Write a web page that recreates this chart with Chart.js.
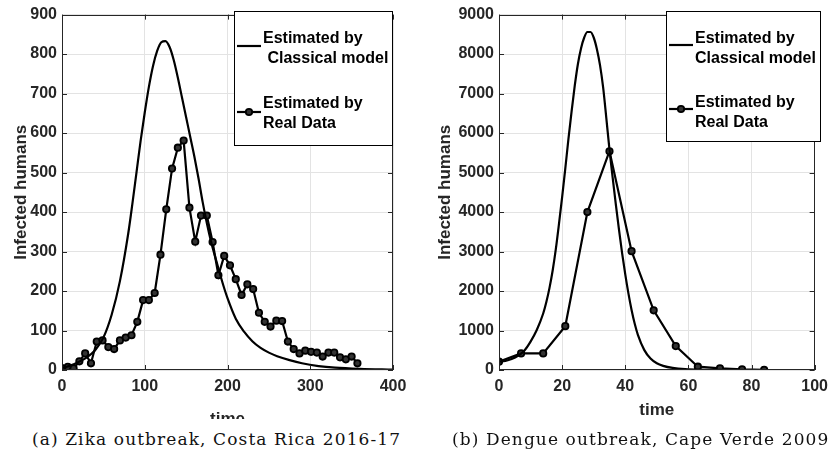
<!DOCTYPE html>
<html>
<head>
<meta charset="utf-8">
<script src="https://cdn.jsdelivr.net/npm/chart.js@4.4.1/dist/chart.umd.min.js"></script>
<style>
html, body { margin: 0; padding: 0; background: #fff; }
body { width: 835px; height: 457px; position: relative; overflow: hidden; }
#zika { position: absolute; left: 0; top: 0; }
#dengue { position: absolute; left: 420px; top: 0; }
.cap { position: absolute; top: 429px; font-family: 'DejaVu Serif', serif; font-size: 17px; letter-spacing: 1.1px; color: #111; white-space: nowrap; }
</style>
</head>
<body>
<canvas id="zika" width="417" height="419"></canvas>
<canvas id="dengue" width="415" height="457"></canvas>
<div class="cap" style="left:32px">(a) Zika outbreak, Costa Rica 2016-17</div>
<div class="cap" style="left:452px">(b) Dengue outbreak, Cape Verde 2009</div>
<script>
// Zika, Costa Rica - weekly reported data
const zikaDays = [0, 7, 14, 21, 28, 35, 42, 49, 56, 63, 70, 77, 84, 91, 98, 105, 112, 119, 126, 133,
  140, 147, 154, 161, 168, 175, 182, 189, 196, 203, 210, 217, 224, 231, 238, 245, 252, 259, 266, 273,
  280, 287, 294, 301, 308, 315, 322, 329, 336, 343, 350, 357];
const zikaCases = [5, 8, 4, 22, 42, 17, 72, 75, 58, 53, 75, 82, 88, 122, 177, 177, 195, 292, 407, 510,
  563, 581, 411, 325, 391, 391, 324, 240, 289, 265, 230, 190, 217, 205, 145, 122, 110, 125, 124, 72,
  53, 42, 49, 46, 44, 34, 44, 44, 32, 27, 34, 17];
// Zika - classical model curve
const zikaModelT = [0, 10, 20, 30, 40, 50, 60, 70, 80, 85, 90, 95, 100, 105, 110, 115, 120, 125, 130, 135,
  140, 145, 150, 155, 160, 165, 170, 175, 180, 185, 190, 195, 200, 210, 220, 230, 240, 250, 260, 275,
  290, 310, 330, 360, 400];
const zikaModelI = [5, 11, 20, 32, 50, 82, 140, 225, 345, 420, 500, 580, 652, 717, 770, 808, 830, 833, 818, 785,
  740, 690, 640, 590, 540, 485, 425, 372, 326, 287, 250, 214, 182, 130, 97, 73, 56, 44, 35, 25,
  17, 10, 6, 3, 1];

// Dengue, Cape Verde 2009
const dengueDays = [0, 7, 14, 21, 28, 35, 42, 49, 56, 63, 70, 77, 84];
const dengueCases = [210, 420, 420, 1110, 4000, 5540, 3010, 1510, 605, 84, 42, 17, 5];
const dengueModelT = [0, 2, 4, 6, 8, 10, 12, 14, 15, 16, 17, 18, 19, 20, 21, 22, 23, 24, 25, 26,
  27, 28, 29, 30, 31, 32, 33, 34, 35, 36, 37, 38, 39, 40, 41, 42, 43, 44, 46, 48,
  50, 52, 55, 59, 65, 70, 80, 90];
const dengueModelI = [210, 232, 280, 360, 490, 720, 1020, 1430, 1720, 2080, 2520, 3060, 3700, 4380, 5100, 5850, 6550, 7200, 7750, 8150,
  8420, 8560, 8560, 8420, 8130, 7720, 7150, 6380, 5580, 4880, 4200, 3560, 2960, 2420, 1940, 1520, 1170, 890, 510, 290,
  170, 105, 52, 20, 6, 2, 0, 0];

const INK = '#262626';
const GRID = '#e3e3e3';
const SANS = "'Liberation Sans', Arial, sans-serif";

Chart.defaults.font.family = SANS;
Chart.defaults.font.weight = 'bold';

function pairs(xs, ys) {
  return xs.map((x, i) => ({x: x, y: ys[i]}));
}

// MATLAB style box, inward ticks, axis titles and legend
const matlabFrame = {
  id: 'matlabFrame',
  afterDatasetsDraw(chart, args, o) {
    const ctx = chart.ctx;
    const a = chart.chartArea;
    const xs = chart.scales.x, ys = chart.scales.y;
    ctx.save();
    ctx.strokeStyle = INK;
    ctx.lineWidth = 1;
    ctx.beginPath();
    xs.ticks.forEach(t => {
      const px = Math.round(xs.getPixelForValue(t.value)) + 0.5;
      ctx.moveTo(px, a.bottom); ctx.lineTo(px, a.bottom - 5);
      ctx.moveTo(px, a.top); ctx.lineTo(px, a.top + 5);
    });
    ys.ticks.forEach(t => {
      const py = Math.round(ys.getPixelForValue(t.value)) + 0.5;
      ctx.moveTo(a.left, py); ctx.lineTo(a.left + 5, py);
      ctx.moveTo(a.right, py); ctx.lineTo(a.right - 5, py);
    });
    ctx.stroke();
    ctx.strokeRect(Math.round(a.left) + 0.5, Math.round(a.top) + 0.5,
      Math.round(a.right - a.left) - 1, Math.round(a.bottom - a.top) - 1);

    ctx.fillStyle = INK;
    ctx.font = 'bold 17px ' + SANS;
    ctx.textAlign = 'center';
    ctx.textBaseline = 'alphabetic';
    ctx.fillText('time', (a.left + a.right) / 2, o.xTitleY);
    ctx.save();
    ctx.translate(o.yTitleX, (a.top + a.bottom) / 2);
    ctx.rotate(-Math.PI / 2);
    ctx.textBaseline = 'middle';
    ctx.fillText('Infected humans', 0, 0);
    ctx.restore();

    // legend
    const L = o.legend;
    ctx.fillStyle = '#fff';
    ctx.fillRect(L.x, L.y, L.w, L.h);
    ctx.strokeStyle = '#000';
    ctx.strokeRect(L.x, L.y, L.w, L.h);
    ctx.font = 'bold 16px ' + SANS;
    ctx.textAlign = 'left';
    ctx.fillStyle = '#000';
    L.items.forEach(it => {
      ctx.strokeStyle = '#000';
      ctx.lineWidth = 2.2;
      ctx.beginPath();
      ctx.moveTo(L.x1, it.lineY); ctx.lineTo(L.x2, it.lineY);
      ctx.stroke();
      if (it.marker) {
        ctx.beginPath();
        ctx.arc((L.x1 + L.x2) / 2, it.lineY, 3.2, 0, Math.PI * 2);
        ctx.fillStyle = '#333';
        ctx.fill();
        ctx.lineWidth = 1.8;
        ctx.stroke();
        ctx.fillStyle = '#000';
      }
      it.text.forEach((s, k) => ctx.fillText(s, L.textX, it.textY[k]));
    });
    ctx.restore();
  }
};

function makeChart(id, cfg) {
  const tickFont = {family: SANS, size: 16, weight: 700};
  return new Chart(document.getElementById(id), {
    type: 'line',
    data: {
      datasets: [{
        label: 'Estimated by Classical model',
        data: pairs(cfg.modelT, cfg.modelI),
        borderColor: '#000',
        borderWidth: 2.2,
        pointRadius: 0,
        cubicInterpolationMode: 'monotone',
        fill: false
      }, {
        label: 'Estimated by Real Data',
        data: pairs(cfg.days, cfg.cases),
        borderColor: '#000',
        borderWidth: 2.2,
        pointRadius: 3.2,
        pointBorderWidth: 1.8,
        pointBackgroundColor: '#333',
        pointBorderColor: '#000',
        tension: 0,
        fill: false
      }]
    },
    options: {
      responsive: false,
      animation: false,
      layout: {padding: cfg.padding},
      scales: {
        x: {
          type: 'linear',
          min: 0, max: cfg.xMax,
          ticks: {stepSize: cfg.xStep, color: INK, font: tickFont, padding: 7, maxRotation: 0, callback: v => String(v)},
          grid: {color: GRID, drawTicks: false},
          border: {display: false},
          afterFit(s) { s.height = cfg.xHeight; }
        },
        y: {
          min: 0, max: cfg.yMax,
          ticks: {stepSize: cfg.yStep, color: INK, font: tickFont, padding: 5, callback: v => String(v)},
          grid: {color: GRID, drawTicks: false},
          border: {display: false},
          afterFit(s) { s.width = cfg.yWidth; }
        }
      },
      plugins: {
        legend: {display: false},
        tooltip: {enabled: false},
        matlabFrame: cfg.frame
      }
    },
    plugins: [matlabFrame]
  });
}

makeChart('zika', {
  days: zikaDays, cases: zikaCases, modelT: zikaModelT, modelI: zikaModelI,
  xMax: 400, xStep: 100, yMax: 900, yStep: 100,
  padding: {left: 0, right: 24, top: 14, bottom: 0},
  yWidth: 62, xHeight: 49,
  frame: {
    xTitleY: 424, yTitleX: 21,
    legend: {
      x: 234.5, y: 11.5, w: 158, h: 134, x1: 237, x2: 261, textX: 263,
      items: [
        {lineY: 46, marker: false, text: ['Estimated by', ' Classical model'], textY: [43, 63]},
        {lineY: 112, marker: true, text: ['Estimated by', 'Real Data'], textY: [108, 128]}
      ]
    }
  }
});

makeChart('dengue', {
  days: dengueDays, cases: dengueCases, modelT: dengueModelT, modelI: dengueModelI,
  xMax: 100, xStep: 20, yMax: 9000, yStep: 1000,
  padding: {left: 0, right: 14, top: 14, bottom: 0},
  yWidth: 79, xHeight: 87,
  frame: {
    xTitleY: 415, yTitleX: 25,
    legend: {
      x: 246.5, y: 11.5, w: 154, h: 130, x1: 249, x2: 273, textX: 275,
      items: [
        {lineY: 45, marker: false, text: ['Estimated by', 'Classical model'], textY: [43, 63]},
        {lineY: 109, marker: true, text: ['Estimated by', 'Real Data'], textY: [106.5, 126.5]}
      ]
    }
  }
});
</script>
</body>
</html>
